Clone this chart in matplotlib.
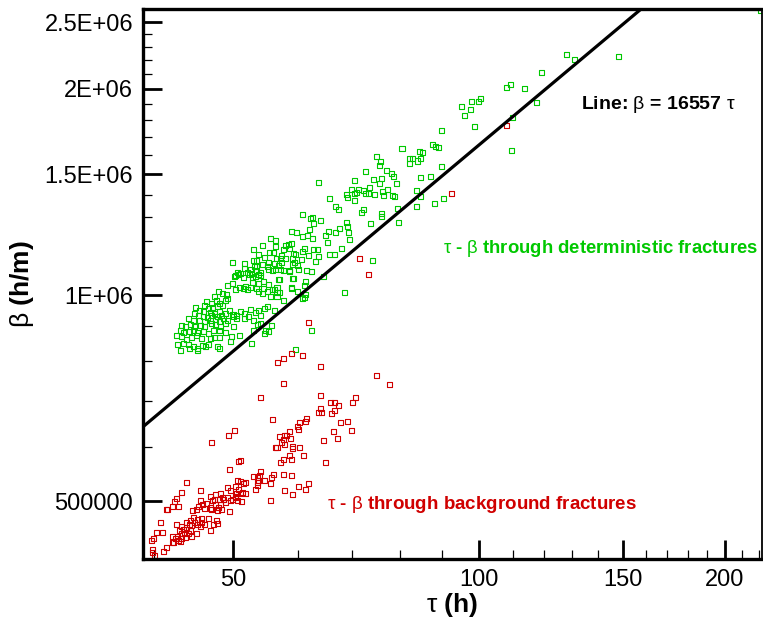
import numpy as np
import matplotlib
matplotlib.use("Agg")
import matplotlib.pyplot as plt
from matplotlib.ticker import FixedLocator, FixedFormatter, NullFormatter

plt.rcParams['font.family'] = ['Liberation Sans', 'DejaVu Sans']
plt.rcParams['mathtext.fontset'] = 'custom'
plt.rcParams['mathtext.rm'] = 'Liberation Sans'
plt.rcParams['mathtext.bf'] = 'Liberation Sans:bold'
plt.rcParams['mathtext.it'] = 'Liberation Sans:italic'

# tau-beta pairs through deterministic fractures (tau in h, beta in 1000 h/m)
green_tau = [
    128.0, 130.9, 148.0, 119.2, 108.0, 109.4, 113.6, 117.7, 95.2, 97.9, 100.5, 100.0, 97.6, 95.9,
    98.8, 89.9, 109.9, 109.7, 87.7, 88.4, 89.1, 80.5, 84.5, 85.2, 82.2, 82.9, 84.8, 84.1, 82.2,
    90.1, 84.8, 87.2, 83.8, 84.7, 90.5, 88.1, 83.8, 221.0,
    74.9, 75.7, 75.5, 72.7, 77.0, 78.2, 78.7, 63.7, 70.4, 74.2, 75.9, 75.5, 79.2, 73.5, 69.8,
    71.2, 70.8, 70.4, 72.3, 72.7, 73.3, 74.4, 76.2, 76.4, 77.2, 78.3, 78.8, 68.9, 69.0, 70.4,
    65.7, 66.8, 67.3, 72.3, 71.8, 76.0, 76.0, 79.4, 60.9, 62.2, 62.6, 63.9, 62.8, 68.9, 69.1,
    73.6, 79.6, 62.0, 59.0, 59.8, 60.8, 61.6, 62.5, 65.5, 64.8, 66.7, 67.5, 69.3, 69.5, 65.2,
    55.6, 56.3, 54.4, 56.3, 57.9, 58.4, 59.0, 67.8, 62.7, 63.4, 60.8, 52.9, 55.4, 53.8, 54.6,
    57.4, 59.3, 61.9, 65.6, 66.5, 63.7, 49.9, 51.6, 57.1, 57.9, 57.4, 63.1, 56.2, 53.4, 54.4,
    55.1, 55.3, 55.9, 52.5, 50.6, 51.0, 52.1, 52.7, 53.2, 53.7, 58.6, 60.1, 62.3, 50.3, 51.5,
    54.5, 57.0, 59.3, 61.3, 64.5, 68.5, 59.0, 61.2, 56.2, 56.6, 55.1, 54.4, 55.5, 61.1, 74.1,
    61.2, 56.0, 57.7, 58.6, 59.6, 51.6, 53.0, 53.4, 55.2, 56.5, 59.2, 59.5, 59.2, 60.6, 59.9,
    56.9, 56.3, 57.1, 57.6, 53.1, 53.4, 54.1, 54.0, 50.8, 50.2, 52.4, 52.8, 49.3, 49.9, 48.0,
    48.6, 49.1, 50.4, 50.9, 51.5, 51.8, 52.1, 52.5, 53.4, 53.8, 54.5, 55.9, 56.6, 57.0, 57.7,
    60.0, 60.9, 61.4, 58.6, 61.5, 59.2, 56.9, 55.3, 53.8, 52.8, 56.6, 59.0,
    47.5, 47.7, 48.2, 48.6, 48.9, 49.3, 46.4, 47.0, 46.2, 46.6, 47.2, 47.8, 45.0, 45.5, 46.0,
    46.9, 47.5, 48.1, 44.8, 45.4, 46.0, 46.5, 47.1, 47.8, 48.4, 49.0, 49.5, 50.0, 50.5, 51.0,
    51.7, 52.5, 52.3, 53.2, 53.7, 54.6, 55.1, 56.2, 44.1, 44.7, 45.5, 46.2, 46.9, 47.6, 48.2,
    48.7, 49.2, 50.1, 50.5, 51.6, 52.9, 54.0, 43.2, 43.7, 44.3, 44.9, 45.6, 46.2, 47.0, 47.6,
    48.3, 49.0, 50.1, 50.9, 52.9, 53.5, 54.6, 55.2, 43.1, 43.5, 44.2, 44.7, 45.3, 46.0, 46.6,
    47.3, 48.2, 48.9, 49.8, 42.7, 43.3, 43.9, 44.5, 45.1, 45.8, 46.9, 47.5, 48.2, 49.6, 52.7,
    42.8, 43.5, 44.1, 44.7, 45.3, 45.9, 46.6, 47.8, 48.2, 43.1, 44.2, 45.3, 46.3, 54.0, 54.8,
    55.8, 59.7, 62.4,
]
green_beta_k = [
    2242, 2203, 2227, 2109, 2006, 2026, 2003, 1907, 1882, 1918, 1933, 1918, 1865, 1830,
    1759, 1737, 1815, 1626, 1660, 1650, 1643, 1639, 1619, 1617, 1583, 1583, 1581, 1569, 1555,
    1539, 1484, 1489, 1422, 1394, 1382, 1361, 1348, 2600,
    1595, 1564, 1546, 1517, 1519, 1502, 1491, 1462, 1469, 1472, 1477, 1453, 1454, 1437, 1425,
    1426, 1412, 1408, 1420, 1408, 1409, 1403, 1415, 1395, 1428, 1395, 1392, 1403, 1388, 1375,
    1382, 1345, 1331, 1331, 1319, 1315, 1302, 1337, 1309, 1294, 1299, 1284, 1273, 1278, 1261,
    1270, 1278, 1247, 1240, 1235, 1217, 1222, 1208, 1239, 1220, 1236, 1252, 1235, 1204, 1195,
    1211, 1203, 1180, 1179, 1180, 1187, 1190, 1171, 1164, 1164, 1159, 1164, 1153, 1147, 1136,
    1144, 1151, 1143, 1145, 1147, 1138, 1116, 1111, 1129, 1130, 1115, 1121, 1111, 1102, 1110,
    1102, 1089, 1085, 1090, 1079, 1076, 1080, 1076, 1066, 1071, 1084, 1090, 1083, 1067, 1062,
    1046, 1055, 1058, 1047, 1063, 1008, 1025, 1031, 1018, 1009, 1012, 1006, 994, 992, 1124,
    1170, 1153, 1166, 1170, 1145, 1094, 1124, 1125, 1115, 1130, 1129, 1117, 1107, 1128, 1105,
    1106, 1091, 1088, 1085, 1102, 1087, 1080, 1069, 1073, 1066, 1073, 1060, 1034, 1040, 1011,
    1006, 1002, 1020, 1025, 1023, 1028, 1019, 1026, 1023, 1011, 1023, 1019, 994, 1008, 981,
    1012, 987, 1001, 1085, 1087, 1058, 1055, 1035, 1040, 1044, 1025, 1023,
    994, 983, 972, 965, 983, 988, 979, 972, 964, 956, 960, 961, 960, 951, 946,
    944, 940, 947, 940, 935, 932, 928, 935, 930, 935, 940, 951, 938, 935, 945,
    940, 953, 930, 944, 951, 956, 961, 951, 925, 919, 917, 914, 919, 921, 914,
    925, 917, 930, 925, 923, 917, 935, 904, 899, 907, 901, 904, 899, 909, 907,
    901, 909, 901, 874, 889, 907, 879, 884, 889, 881, 884, 889, 881, 884, 879,
    887, 889, 881, 869, 874, 869, 862, 867, 874, 864, 864, 867, 866, 855, 851,
    848, 850, 848, 840, 836, 845, 848, 840, 836, 831, 836, 829, 840, 909, 889,
    904, 833, 889,
]

# tau-beta pairs through background fractures
red_tau = [
    108.1, 92.6, 71.4, 73.3, 61.9, 57.6, 58.9, 60.9, 56.7, 64.0, 75.0, 77.7, 57.6, 54.0, 64.0,
    70.6, 70.0, 65.9, 66.5, 67.3, 66.5, 66.0, 64.0, 64.1, 63.6, 55.9, 61.5, 60.3, 59.9, 60.2,
    58.6, 58.1, 57.8, 57.0, 57.3, 57.7, 58.8, 57.8, 67.7, 69.0, 69.8, 66.3, 67.1, 64.6, 56.4,
    56.6, 59.2, 59.1, 60.3, 58.6, 58.9, 57.7, 57.2, 61.0, 64.9, 54.0, 49.4, 50.2, 47.0, 50.8,
    49.5, 51.0, 52.9, 53.6, 53.9, 53.8, 53.5, 53.5, 53.3, 54.6, 56.0, 55.8, 57.7, 58.9, 55.5,
    57.8, 59.2, 60.2, 61.3, 61.8, 55.6, 51.0, 51.5, 51.8, 51.3, 51.8, 51.2, 50.6, 43.8, 43.3,
    45.6, 42.6, 42.4, 41.5, 41.6, 42.2, 42.9, 40.8, 40.3, 41.0, 39.7, 40.0, 39.8, 40.1, 41.1,
    41.4, 49.2, 49.6, 50.3, 50.8, 50.5, 51.0, 47.6, 48.3, 48.6, 48.2, 46.9, 47.5, 47.2, 49.3,
    49.6, 49.9, 50.3, 50.6, 50.4, 48.7, 48.9, 45.6, 45.9, 46.4, 46.2, 46.9, 47.1, 44.6, 45.1,
    45.4, 47.6, 48.0, 48.3, 47.8, 48.4, 49.5, 44.4, 44.7, 45.3, 45.8, 46.6, 45.6, 43.9, 44.2,
    44.5, 44.9, 45.2, 45.7, 46.1, 46.9, 42.7, 43.2, 43.0, 43.5, 43.9, 44.3, 43.6, 44.1, 43.3,
    42.2, 42.8, 43.3, 43.7, 44.5, 45.1, 42.5, 42.9, 43.1, 42.3, 47.7, 47.8, 47.3, 61.3, 39.8,
    42.2,
]
red_beta_k = [
    1767, 1409, 1130, 1071, 911, 808, 821, 815, 797, 787, 762, 740, 743, 710, 713,
    710, 696, 696, 697, 689, 679, 672, 683, 673, 673, 659, 660, 652, 644, 637,
    633, 624, 623, 621, 610, 616, 618, 605, 652, 655, 634, 632, 617, 613, 599,
    600, 602, 597, 600, 583, 576, 576, 570, 583, 569, 553, 624, 635, 610, 572,
    557, 574, 543, 542, 545, 536, 532, 527, 521, 537, 547, 542, 547, 545, 531,
    518, 512, 525, 520, 531, 501, 534, 531, 532, 515, 514, 500, 537, 533, 516,
    519, 505, 500, 487, 487, 492, 492, 466, 450, 450, 438, 441, 425, 417, 422,
    428, 524, 519, 525, 520, 514, 514, 512, 514, 507, 504, 508, 503, 502, 507,
    502, 503, 507, 502, 509, 504, 498, 502, 495, 497, 488, 489, 486, 485, 487,
    491, 494, 490, 494, 485, 487, 484, 469, 473, 470, 472, 472, 459, 466, 462,
    461, 466, 463, 466, 463, 454, 462, 459, 454, 455, 458, 454, 449, 449, 449,
    445, 444, 442, 443, 444, 449, 441, 439, 437, 436, 469, 464, 462, 655, 421,
    435,
]

line_slope = 16557  # beta = 16557 tau

x_major = [50, 100, 150, 200]
x_major_labels = ['50', '100', '150', '200']
x_minor = [40, 60, 70, 80, 90, 110, 120, 130, 140, 160, 170, 180, 190, 210, 220]
y_major = [500000, 1000000, 1500000, 2000000, 2500000]
y_major_labels = ['500000', '1E+06', '1.5E+06', '2E+06', '2.5E+06']
y_minor = [600000, 700000, 800000, 900000, 1100000, 1200000, 1300000, 1400000,
           1600000, 1700000, 1800000, 1900000, 2100000, 2200000, 2300000, 2400000]

green = '#00C800'
red = '#D00000'

fig = plt.figure(figsize=(7.63, 6.21), dpi=100)
ax = fig.add_axes([143 / 763, 1 - 559 / 621, 619 / 763, 549.7 / 621])
ax.set_xscale('log')
ax.set_yscale('log')
xlim = (38.8, 222.0)
ax.set_xlim(*xlim)
ax.set_ylim(412000, 2612000)

ax.scatter(green_tau, np.array(green_beta_k) * 1000, marker='s', s=13,
           facecolors='none', edgecolors=green, linewidths=0.8, zorder=2)
ax.scatter(red_tau, np.array(red_beta_k) * 1000, marker='s', s=13,
           facecolors='none', edgecolors=red, linewidths=0.8, zorder=2)

xl = np.array(xlim)
ax.plot(xl, line_slope * xl, color='black', lw=2.3, zorder=3)

ax.xaxis.set_major_locator(FixedLocator(x_major))
ax.xaxis.set_major_formatter(FixedFormatter(x_major_labels))
ax.xaxis.set_minor_locator(FixedLocator(x_minor))
ax.xaxis.set_minor_formatter(NullFormatter())
ax.yaxis.set_major_locator(FixedLocator(y_major))
ax.yaxis.set_major_formatter(FixedFormatter(y_major_labels))
ax.yaxis.set_minor_locator(FixedLocator(y_minor))
ax.yaxis.set_minor_formatter(NullFormatter())

ax.tick_params(which='major', direction='in', length=14, width=2.0,
               labelsize=17, pad=7)
ax.tick_params(which='minor', direction='in', length=6.5, width=0.9)

for side in ['left', 'bottom', 'top']:
    ax.spines[side].set_linewidth(2.4)
ax.spines['right'].set_linewidth(1.3)

# greek letters in regular weight, the rest bold
ax.set_xlabel(r'$\mathrm{\tau}$ (h)', fontsize=19, fontweight='bold', labelpad=0)
ax.set_ylabel(r'$\mathrm{\beta}$ (h/m)', fontsize=19, fontweight='bold', labelpad=6)

ax.text(0.707, 0.827, r'Line: $\mathrm{\beta}$ = 16557 $\mathrm{\tau}$',
        transform=ax.transAxes, fontsize=14, fontweight='bold', color='black',
        va='center', ha='left')
ax.text(0.485, 0.565, r'$\mathrm{\tau}$ - $\mathrm{\beta}$ through deterministic fractures',
        transform=ax.transAxes, fontsize=13.3, fontweight='bold', color=green,
        va='center', ha='left')
ax.text(0.297, 0.1, r'$\mathrm{\tau}$ - $\mathrm{\beta}$ through background fractures',
        transform=ax.transAxes, fontsize=13.5, fontweight='bold', color=red,
        va='center', ha='left')

fig.savefig('out.png', dpi=100)
